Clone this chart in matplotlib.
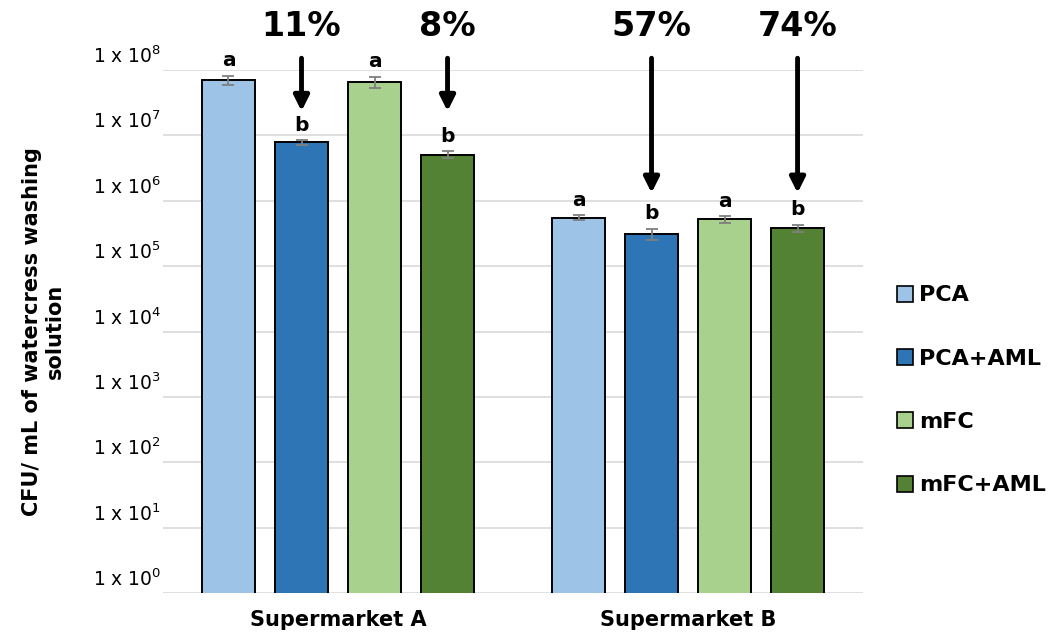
import numpy as np
import matplotlib
matplotlib.use("Agg")
import matplotlib.pyplot as plt
import matplotlib.transforms as mtransforms
from matplotlib.patches import Patch

plt.rcParams['font.family'] = ['DejaVu Sans']

# ---- data ----
groups = ["Supermarket A", "Supermarket B"]
series = ["PCA", "PCA+AML", "mFC", "mFC+AML"]
pca = [7.0e7, 5.5e5]
pca_aml = [7.8e6, 3.1e5]
mfc = [6.6e7, 5.2e5]
mfc_aml = [5.1e6, 3.8e5]
pca_err = [1.1e7, 0.5e5]
pca_aml_err = [0.6e6, 0.6e5]
mfc_err = [1.3e7, 0.6e5]
mfc_aml_err = [0.6e6, 0.5e5]
letters = [["a", "a"], ["b", "b"], ["a", "a"], ["b", "b"]]
# percentage labels for the AML series (PCA+AML, mFC+AML) per group
pca_aml_pct = ["11%", "57%"]
mfc_aml_pct = ["8%", "74%"]

colors = ["#9DC3E6", "#2E75B6", "#A9D18E", "#548235"]
values = [pca, pca_aml, mfc, mfc_aml]
errors = [pca_err, pca_aml_err, mfc_err, mfc_aml_err]

# ---- figure ----
fig = plt.figure(figsize=(10.53, 6.4), dpi=100)
ax = fig.add_axes([0.1548, 0.0734, 0.6648, 0.8172])

x = np.arange(len(groups))
pitch = 0.2086
width = 0.151
offsets = (np.arange(len(series)) - 1.5) * pitch

for i, (name, vals, errs, col) in enumerate(zip(series, values, errors, colors)):
    xs = x + offsets[i]
    ax.bar(xs, vals, width=width, color=col, edgecolor="black", linewidth=1.4,
           zorder=3, label=name)
    ax.errorbar(xs, vals, yerr=errs, fmt="none", ecolor="#7F7F7F",
                elinewidth=1.3, capsize=4, capthick=1.3, zorder=4)
    for xi, v, e, lt in zip(xs, vals, errs, letters[i]):
        ax.annotate(lt, xy=(xi, v + e), xytext=(0, 4), textcoords="offset points",
                    ha="center", va="bottom", fontsize=14.5, fontweight="bold",
                    zorder=5)

ax.set_yscale("log")
ax.set_ylim(1, 1e8)
ax.set_xlim(-0.5, 1.5)
decades = np.arange(0, 9)
ax.set_yticks(10.0 ** decades)
ax.set_yticklabels([r"1 x 10$^{%d}$" % d for d in decades], fontsize=13.5)
ax.yaxis.set_minor_locator(matplotlib.ticker.NullLocator())
ax.tick_params(axis="y", length=0, pad=1)
ax.tick_params(axis="x", length=0, pad=12)
shift = mtransforms.ScaledTranslation(0, 7 / 100, fig.dpi_scale_trans)
for lab in ax.get_yticklabels():
    lab.set_verticalalignment("baseline")
    lab.set_transform(lab.get_transform() + shift)
ax.set_xticks(x)
ax.set_xticklabels(groups, fontsize=15, fontweight="bold")
ax.grid(axis="y", color="#D9D9D9", linewidth=1.2, zorder=0)
for s in ax.spines.values():
    s.set_visible(False)

ax.set_ylabel("CFU/ mL of watercress washing\nsolution", fontsize=15,
              fontweight="bold", labelpad=20)

# ---- reduction arrows ----
arrow_top = 10 ** 8.18
arrow_tip = [10 ** 7.37, 10 ** 6.12]
text_y = 10 ** 8.66
for si, pct in ((1, pca_aml_pct), (3, mfc_aml_pct)):
    for gi in range(len(groups)):
        xi = x[gi] + offsets[si]
        ax.annotate("", xy=(xi, arrow_tip[gi]), xytext=(xi, arrow_top),
                    arrowprops=dict(arrowstyle="-|>,head_length=0.9,head_width=0.45",
                                    color="black", lw=3.5, shrinkA=0, shrinkB=0),
                    annotation_clip=False, zorder=6)
        ax.text(xi, text_y, pct[gi], ha="center", va="center", fontsize=24,
                fontweight="bold", clip_on=False)

# ---- legend ----
handles = [Patch(facecolor=c, edgecolor="black", linewidth=1.2) for c in colors]
fig.legend(handles, series, loc="center left", bbox_to_anchor=(0.843, 0.39),
           frameon=False, handlelength=0.75, handleheight=0.75, handletextpad=0.25,
           labelspacing=1.95, borderaxespad=0, prop=dict(size=16, weight="bold"))

fig.savefig("out.png", dpi=100)
